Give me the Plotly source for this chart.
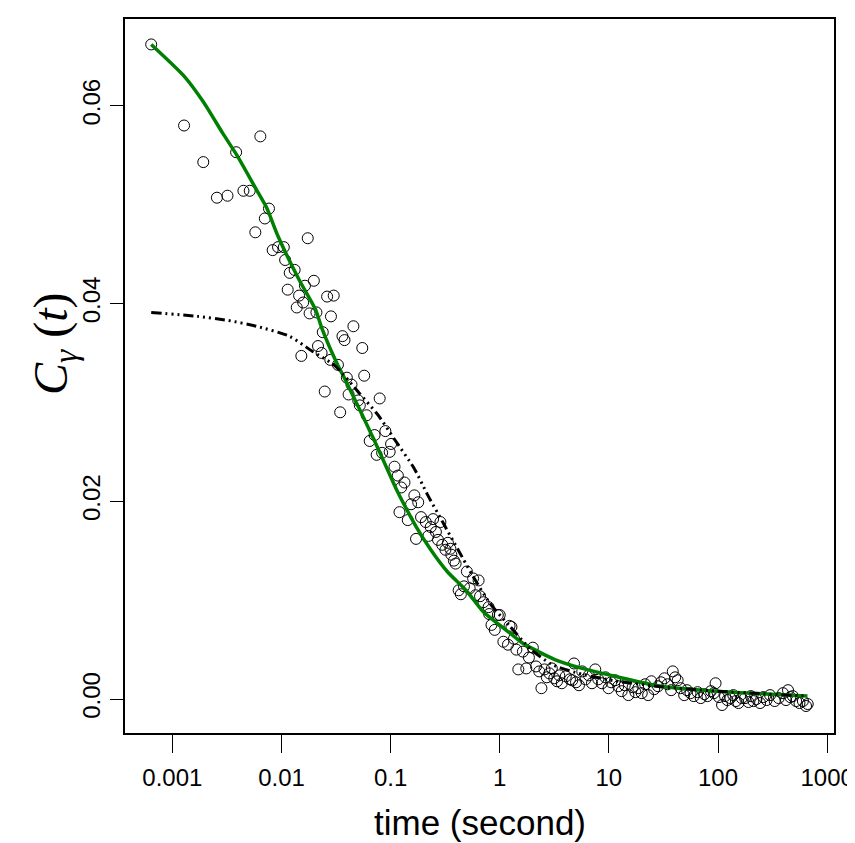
import plotly.graph_objects as go

# observed correlation values
t_obs = [0.00064, 0.00128, 0.00192, 0.00256, 0.0032, 0.00384, 0.00448, 0.00512, 0.00576, 0.0064,
         0.00704, 0.00768, 0.0083, 0.0093, 0.0105, 0.0108, 0.0114, 0.0119, 0.0132, 0.0138,
         0.0145, 0.0152, 0.0158, 0.0164, 0.0174, 0.0181, 0.0198, 0.0209, 0.0216, 0.0233,
         0.0239, 0.0249, 0.0262, 0.0280, 0.0284, 0.0301, 0.0329, 0.0345, 0.0362, 0.0378,
         0.0397, 0.0412, 0.0438, 0.0456, 0.0505, 0.0522, 0.0550, 0.0573, 0.0603, 0.0643,
         0.0713, 0.0745, 0.0794, 0.0836, 0.0895, 0.098,
         0.101, 0.1086, 0.1165, 0.1206, 0.125, 0.134, 0.1436, 0.154, 0.165, 0.171,
         0.179, 0.19, 0.21, 0.222, 0.233, 0.245, 0.26, 0.272, 0.286, 0.297,
         0.318, 0.335, 0.353, 0.36, 0.38, 0.394, 0.42, 0.44, 0.47, 0.50,
         0.53, 0.57, 0.60, 0.64, 0.66, 0.71, 0.79, 0.80, 0.84, 0.90, 0.96, 1.0,
         1.08, 1.19, 1.23, 1.28, 1.35, 1.42, 1.48, 1.63, 1.75, 1.85,
         2.01, 2.15, 2.3, 2.41, 2.57, 2.7, 2.85, 3.0, 3.16, 3.35,
         3.51, 3.7, 4.03, 4.4, 4.62, 4.79, 5.0, 5.32, 5.7, 6.1,
         6.55, 7.0, 7.5, 8.0, 8.64, 9.3, 9.93,
         10.5, 11.4, 12.2, 13.1, 14.0, 15.1, 16.5, 17.5, 18.6, 20.0,
         21.5, 22.9, 24.5, 26.0, 28.2, 30.0, 32.3, 34.5, 37.2, 38.5,
         40.5, 42.7, 45.5, 49, 52, 56, 60, 65, 69.5, 75,
         80, 86, 91.6, 95,
         102, 109, 116, 122, 130, 138, 146, 154, 165, 177,
         190, 200, 211, 225, 243, 260, 279, 300, 331, 360,
         394, 420, 438, 460, 485, 520, 558, 600, 641, 664]
c_obs = [0.0662, 0.0580, 0.0543, 0.0507, 0.0509, 0.0553, 0.0514, 0.0514, 0.0472, 0.0569,
         0.0486, 0.0496, 0.0454, 0.0457, 0.0457, 0.0444, 0.0414, 0.0431, 0.0434, 0.0396,
         0.0408, 0.0347, 0.0401, 0.0418, 0.0466, 0.0390, 0.0423, 0.0391, 0.0357, 0.0350,
         0.0371, 0.0311, 0.0407, 0.0343, 0.0387, 0.0408, 0.0338, 0.0290, 0.0367, 0.0363,
         0.0325, 0.0308, 0.0318, 0.0377, 0.0302, 0.0297, 0.0355, 0.0327, 0.0287, 0.0261,
         0.0267, 0.0247, 0.0304, 0.0249, 0.0271, 0.0250,
         0.0258, 0.0235, 0.0226, 0.0189, 0.0214, 0.0219, 0.0181, 0.0197, 0.0206, 0.0162,
         0.0199, 0.0184, 0.0179, 0.0165, 0.0174, 0.0182, 0.0169, 0.0161, 0.0179, 0.0156,
         0.0151, 0.0158, 0.0152, 0.0146, 0.0140, 0.0137, 0.0110, 0.0106, 0.0114, 0.0129,
         0.0112, 0.0122, 0.0105, 0.0120, 0.0104, 0.0098, 0.0093, 0.0086, 0.0075, 0.0070, 0.0085, 0.0085,
         0.0058, 0.0055, 0.0074, 0.0073, 0.0061, 0.0050, 0.0030, 0.0048, 0.0031, 0.0042,
         0.0052, 0.0033, 0.0028, 0.0011, 0.0030, 0.0022, 0.0026, 0.0031, 0.0021, 0.0018,
         0.0024, 0.0016, 0.0023, 0.0020, 0.0019, 0.0036, 0.0017, 0.0014, 0.0028, 0.0020,
         0.0024, 0.0016, 0.0030, 0.0020, 0.0016, 0.0022, 0.0011,
         0.0017, 0.0019, 0.0013, 0.0008, 0.0014, 0.0004, 0.0012, 0.0007, 0.0011, 0.0006,
         0.0015, 0.0004, 0.0018, 0.0010, 0.0013, 0.0017, 0.0021, 0.0015, 0.0009, 0.0028,
         0.0022, 0.0019, 0.0011, 0.0004, 0.0009, 0.0006, 0.0003, 0.0007, 0.0001, 0.0005,
         0.0003, 0.0008, 0.0006, 0.0016,
         0.0002, -0.0006, 0.0003, -0.0001, 0.0001, 0.0004, -0.0002, -0.0004, 0.0001, 0.0001,
         -0.0003, 0.0003, -0.0002, 0.0000, -0.0004, 0.0002, -0.0001, 0.0004, -0.0002, 0.0001,
         0.0006, -0.0001, 0.0009, 0.0002, 0.0003, -0.0002, -0.0004, -0.0002, -0.0007, -0.0005]

# fitted curve (green)
t_fit = [0.00064, 0.00128, 0.00192, 0.0029, 0.0039, 0.0059, 0.0073, 0.0093, 0.0145, 0.0205,
         0.0236, 0.033, 0.038, 0.072, 0.112, 0.134, 0.17, 0.23, 0.33, 0.5,
         0.71, 1.3, 1.6, 2.0, 3.2, 5.7, 11.4, 30, 97, 660]
c_fit = [0.0662, 0.0630, 0.0604, 0.0572, 0.0550, 0.0515, 0.0497, 0.0468, 0.0424, 0.0394,
         0.0374, 0.0337, 0.0324, 0.0260, 0.0213, 0.0196, 0.0175, 0.0152, 0.0129, 0.0109,
         0.0088, 0.0065, 0.0057, 0.0051, 0.0040, 0.0031, 0.0023, 0.0013, 0.0008, 0.0003]

# second model curve (dash-dot)
t_mod = [0.00064, 0.0017, 0.0032, 0.0059, 0.0118, 0.019, 0.031, 0.051, 0.077, 0.108,
         0.165, 0.217, 0.30, 0.42, 0.57, 0.81, 1.23, 1.9, 3.0, 5.7,
         12, 27, 97, 660]
c_mod = [0.0391, 0.0387, 0.0383, 0.0377, 0.0367, 0.0352, 0.0337, 0.0310, 0.0287, 0.0263,
         0.0233, 0.0207, 0.0179, 0.0150, 0.0124, 0.0097, 0.0074, 0.0051, 0.0035, 0.0025,
         0.0018, 0.0013, 0.0008, 0.0003]

x_ticks = [0.001, 0.01, 0.1, 1, 10, 100, 1000]
x_labels = ["0.001", "0.01", "0.1", "1", "10", "100", "1000"]
y_ticks = [0.0, 0.02, 0.04, 0.06]
y_labels = ["0.00", "0.02", "0.04", "0.06"]

sans = "Liberation Sans, Arial, sans-serif"

fig = go.Figure()
fig.add_trace(go.Scatter(x=t_obs, y=c_obs, mode="markers",
                         marker=dict(symbol="circle-open", size=11, color="black",
                                     line=dict(width=1, color="black"))))
fig.add_trace(go.Scatter(x=t_fit, y=c_fit, mode="lines",
                         line=dict(color="#008000", width=3.5, shape="spline", smoothing=0.6)))
fig.add_trace(go.Scatter(x=t_mod, y=c_mod, mode="lines",
                         line=dict(color="black", width=3, shape="spline", smoothing=0.6,
                                   dash="10px,4px,2px,4px,2px,4px,2px,4px")))

fig.update_layout(
    width=855, height=843,
    margin=dict(l=117, r=21, t=9, b=118),
    paper_bgcolor="white", plot_bgcolor="white",
    showlegend=False,
    font=dict(family=sans, color="black"),
)
fig.update_xaxes(type="log", range=[-3.434, 3.063],
                 tickvals=x_ticks, ticktext=x_labels,
                 ticks="outside", ticklen=18, tickwidth=1, tickcolor="black",
                 tickfont=dict(size=24, family=sans),
                 ticklabelstandoff=4,
                 showline=True, linecolor="black", linewidth=2, mirror=True,
                 showgrid=False, zeroline=False)
fig.update_yaxes(range=[-0.00343, 0.06877],
                 tickvals=y_ticks, ticktext=y_labels, tickangle=-90,
                 ticks="outside", ticklen=13, tickwidth=1, tickcolor="black",
                 tickfont=dict(size=24, family=sans),
                 showline=True, linecolor="black", linewidth=2, mirror=True,
                 showgrid=False, zeroline=False)

fig.add_annotation(text="time (second)", xref="paper", yref="paper",
                   x=0.5, y=-0.125, xanchor="center", yanchor="middle",
                   showarrow=False, font=dict(size=35, family=sans))
fig.add_annotation(text="<i>C</i><sub><i>γ</i></sub> (<i>t</i>)", xref="paper", yref="paper",
                   x=-0.1, y=0.545, xanchor="center", yanchor="middle", textangle=-90,
                   showarrow=False, font=dict(size=48, family="Liberation Serif, Times New Roman, serif"))

fig.write_html("out.html")
